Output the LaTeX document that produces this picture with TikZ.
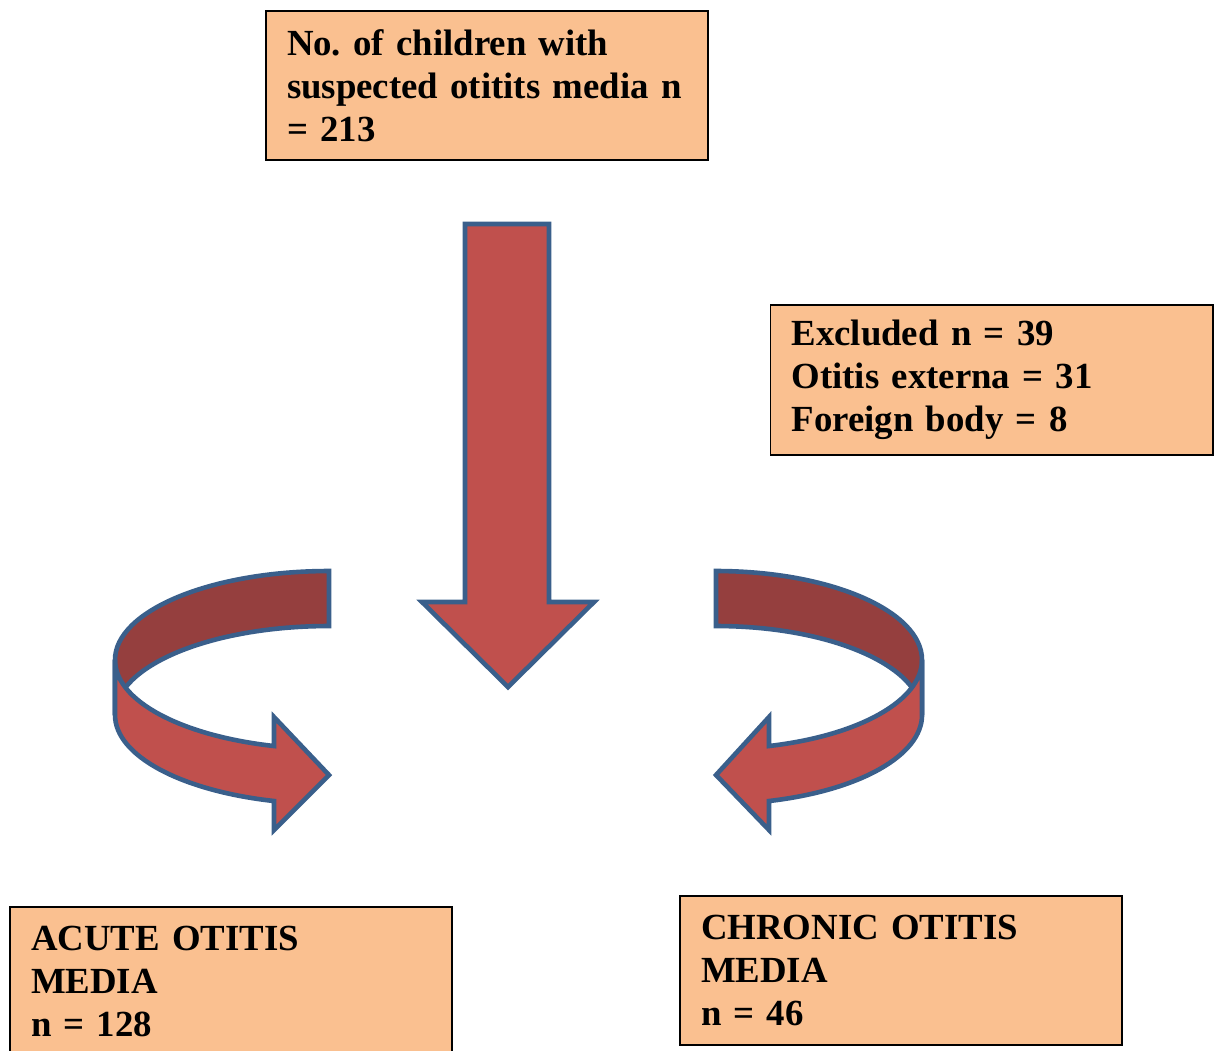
\documentclass[tikz,border=0pt]{standalone}
\usepackage{fontspec}
\setmainfont{Liberation Serif}
\frenchspacing

\definecolor{boxfill}{HTML}{FAC090}
\definecolor{arrowred}{HTML}{C0504D}
\definecolor{arrowdark}{HTML}{953F3E}
\definecolor{arrowline}{HTML}{3A5F8B}

\tikzset{
	countbox/.style={draw=black, line width=0.65pt, fill=boxfill,
		minimum width=144.1pt, minimum height=48.6pt, text width=130.4pt,
		inner xsep=6.85pt, align=left, font=\bfseries\fontsize{12}{14}\selectfont},
	blockarrow/.style={draw=arrowline, line width=1.5pt, fill=arrowred},
	blockback/.style={blockarrow, fill=arrowdark}
}

\begin{document}
\begin{tikzpicture}[x=0.326pt, y=-0.326pt]
			\clip (0,0) rectangle (1214,1050);
			
			% count boxes
			\node[countbox] (total) at (487,85.5) {No. of children with\\ suspected otitits media n\\ = 213};
			\node[countbox] (excluded) at (991.5,380) {Excluded n = 39\\ Otitis externa = 31\\ Foreign body = 8};
			\node[countbox] (acute) at (231,981.5) {ACUTE OTITIS\\ MEDIA\\ n = 128};
			\node[countbox] (chronic) at (901,970.5) {CHRONIC OTITIS\\ MEDIA\\ n = 46};
			
			% straight block arrow
			\draw[blockarrow] (465,224) -- (549,224) -- (549,602) -- (594,602)
				-- (508,687) -- (422,602) -- (465,602) -- cycle;
			
			% left curved arrow
			\draw[blockback] (329,571) arc[start angle=270, end angle=180, x radius=214, y radius=89]
				-- ++(0,55) arc[start angle=180, end angle=270, x radius=214, y radius=89] -- cycle;
			\draw[blockarrow] (115,660) arc[start angle=180, end angle=104.9, x radius=214, y radius=89]
				-- (274,717) -- (329,775) -- (274,830) -- (274,801)
				arc[start angle=104.9, end angle=180, x radius=214, y radius=89] -- cycle;
			
			% right curved arrow
			\draw[blockback] (716,571) arc[start angle=270, end angle=360, x radius=206, y radius=89]
				-- ++(0,55) arc[start angle=0, end angle=-90, x radius=206, y radius=89] -- cycle;
			\draw[blockarrow] (922,660) arc[start angle=0, end angle=75.1, x radius=206, y radius=89]
				-- (769,717) -- (716,775) -- (769,830) -- (769,801)
				arc[start angle=75.1, end angle=0, x radius=206, y radius=89] -- cycle;
\end{tikzpicture}
\end{document}
